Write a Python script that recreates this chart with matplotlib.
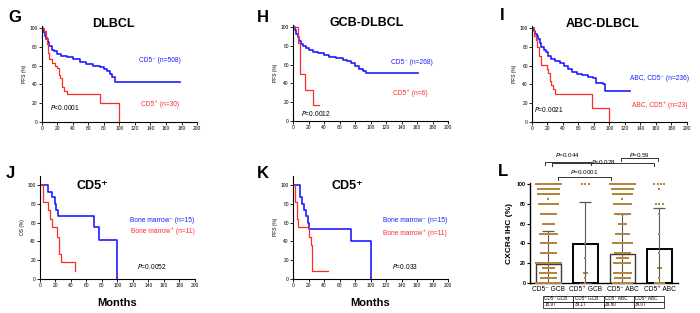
import matplotlib
matplotlib.use("Agg")
import matplotlib.pyplot as plt
import numpy as np

plt.rcParams['font.family'] = ['Liberation Sans', 'DejaVu Sans']

BLUE = '#1c1cff'
RED = '#ff2b2b'
TAN = '#b5853f'

# ---- survival curves (months, %) ----
g_neg_t = [0, 2, 4, 6, 8, 10, 13, 16, 20, 25, 32, 40, 49, 57, 66, 75, 80, 84, 88, 91, 94, 178]
g_neg_s = [100, 96, 92, 88, 85, 81, 77, 75, 72, 70, 69, 67, 64, 62, 60, 58, 56, 54, 51, 48, 43, 43]
g_pos_t = [0, 3, 5, 7, 8, 10, 13, 17, 20, 22, 24, 26, 29, 32, 75, 99]
g_pos_s = [100, 97, 90, 83, 73, 67, 63, 60, 57, 50, 47, 37, 33, 30, 20, 0]

h_neg_t = [0, 2, 4, 6, 8, 10, 13, 17, 21, 26, 32, 40, 47, 55, 64, 70, 75, 80, 85, 90, 94, 161]
h_neg_s = [100, 97, 93, 89, 85, 82, 80, 78, 76, 73, 72, 70, 68, 67, 65, 64, 62, 58, 55, 53, 51, 51]
h_pos_t = [0, 7, 9, 16, 26, 33]
h_pos_s = [100, 83, 50, 33, 17, 17]

i_neg_t = [0, 2, 4, 6, 8, 10, 12, 15, 18, 21, 25, 30, 36, 41, 46, 52, 58, 65, 72, 79, 83, 91, 94, 127]
i_neg_s = [100, 97, 94, 91, 88, 84, 80, 77, 74, 70, 67, 65, 63, 60, 56, 53, 51, 50, 48, 47, 41, 40, 33, 33]
i_pos_t = [0, 3, 5, 7, 9, 12, 19, 21, 23, 25, 27, 30, 77, 99]
i_pos_s = [100, 91, 87, 80, 70, 61, 56, 52, 44, 39, 35, 30, 15, 0]

j_neg_t = [0, 10, 16, 19, 21, 23, 70, 76, 100]
j_neg_s = [100, 93, 87, 80, 73, 67, 55, 42, 0]
j_pos_t = [0, 4, 11, 13, 16, 22, 25, 27, 45]
j_pos_s = [100, 82, 73, 64, 55, 45, 27, 18, 9]

k_neg_t = [0, 9, 11, 14, 17, 19, 21, 75, 100]
k_neg_s = [100, 87, 80, 73, 67, 60, 53, 40, 0]
k_pos_t = [0, 3, 5, 6, 21, 23, 25, 45]
k_pos_s = [100, 82, 64, 55, 45, 36, 9, 9]

# ---- CXCR4 IHC panel ----
groups = ['CD5\u207b GCB', 'CD5\u207a GCB', 'CD5\u207b ABC', 'CD5\u207a ABC']
means = [18.97, 39.17, 29.80, 34.07]
sds = [33.5, 42.8, 40.2, 41.9]
dot_levels = [
    [100, 95, 90, 85, 80, 70, 60, 50, 40, 30, 20, 15, 10, 5, 0],
    [100, 40, 25, 10, 5, 0],
    [100, 95, 90, 85, 80, 70, 60, 50, 40, 30, 25, 20, 10, 5, 0],
    [100, 95, 80, 70, 50, 30, 15, 5, 0],
]
dot_counts = [
    [28, 23, 22, 1, 19, 14, 11, 18, 14, 14, 28, 10, 16, 14, 28],
    [3, 1, 1, 2, 1, 1],
    [28, 22, 20, 1, 18, 14, 6, 12, 20, 14, 10, 16, 18, 14, 20],
    [4, 1, 3, 1, 1, 1, 2, 1, 8],
]
brackets = [('0.044', -0.1, 1.15, 122, 129), ('0.59', 1.95, 2.95, 126, 129),
            ('0.028', 0.1, 2.85, 121, 122), ('0.0001', 0.25, 1.7, 107, 112)]


def km_panel(rect, ylab, ymax, curves, labels, ptext, ppos):
    ax = fig.add_axes(rect)
    for (t, s), col in zip(curves, [BLUE, RED]):
        ax.step(t, s, where='post', color=col, lw=1.2 if col == BLUE else 0.9)
    ax.set_xlim(0, 200)
    ax.set_ylim(0, ymax)
    ax.set_xticks(range(0, 201, 20))
    ax.set_yticks(range(0, 101, 20))
    ax.spines[['top', 'right']].set_visible(False)
    for sp in ax.spines.values():
        sp.set_linewidth(0.8)
    ax.tick_params(labelsize=3.5, length=2, width=0.6, pad=1)
    ax.set_ylabel(ylab, fontsize=3.5, labelpad=2)
    for (txt, x, y), col in zip(labels, [BLUE, RED]):
        ax.text(x, y, txt, color=col, fontsize=4.8, ha='center', va='center')
    ax.text(ppos[0], ppos[1], '$\\it{P}$' + ptext, fontsize=4.8, ha='center', va='center')
    return ax


fig = plt.figure(figsize=(7, 3.13), dpi=100)

ax = km_panel([0.0596, 0.6102, 0.2219, 0.3064], 'PFS (%)', 102,
              [(g_neg_t, g_neg_s), (g_pos_t, g_pos_s)],
              [('CD5\u207b (n=508)', 152, 65), ('CD5\u207a (n=30)', 152, 19)],
              '<0.0001', (30, 15))
ax.text(0.46, 1.02, 'DLBCL', transform=ax.transAxes, fontsize=9, fontweight='bold',
        ha='center', va='center')

ax = km_panel([0.4186, 0.6134, 0.2214, 0.3064], 'PFS (%)', 102,
              [(h_neg_t, h_neg_s), (h_pos_t, h_pos_s)],
              [('CD5\u207b (n=268)', 153, 62), ('CD5\u207a (n=6)', 151, 30)],
              '=0.0012', (30, 8.5))
ax.text(0.477, 1.025, 'GCB-DLBCL', transform=ax.transAxes, fontsize=9, fontweight='bold',
        ha='center', va='center')

ax = km_panel([0.76, 0.6102, 0.2214, 0.3064], 'PFS (%)', 102,
              [(i_neg_t, i_neg_s), (i_pos_t, i_pos_s)],
              [('ABC, CD5\u207b (n=236)', 165, 46), ('ABC, CD5\u207a (n=23)', 165, 18)],
              '=0.0021', (22, 13))
ax.text(0.458, 1.02, 'ABC-DLBCL', transform=ax.transAxes, fontsize=9, fontweight='bold',
        ha='center', va='center')

ax = km_panel([0.0571, 0.1086, 0.2214, 0.3304], 'OS (%)', 110,
              [(j_neg_t, j_neg_s), (j_pos_t, j_pos_s)],
              [('Bone marrow\u207b (n=15)', 157, 62), ('Bone marrow\u207a (n=11)', 159, 51)],
              '=0.0052', (145, 13))
ax.text(0.34, 0.90, 'CD5\u207a', transform=ax.transAxes, fontsize=9, fontweight='bold',
        ha='center', va='center')
ax.set_xlabel('Months', fontsize=8, fontweight='bold', labelpad=7)

ax = km_panel([0.4186, 0.1086, 0.2214, 0.3304], 'PFS (%)', 110,
              [(k_neg_t, k_neg_s), (k_pos_t, k_pos_s)],
              [('Bone marrow\u207b (n=15)', 157, 62), ('Bone marrow\u207a (n=11)', 157, 49)],
              '=0.033', (144.5, 13))
ax.text(0.35, 0.90, 'CD5\u207a', transform=ax.transAxes, fontsize=9, fontweight='bold',
        ha='center', va='center')
ax.set_xlabel('Months', fontsize=8, fontweight='bold', labelpad=7)

# ---- panel L ----
ax = fig.add_axes([0.7571, 0.0958, 0.2114, 0.3195])
x = np.arange(len(groups))
edge = ['#3a3a3a', 'black', '#3a3a3a', 'black']
lws = [1.0, 1.4, 1.0, 1.4]
ax.bar(x, means, width=0.7, fill=False, edgecolor=edge, linewidth=lws, zorder=2)
ax.errorbar(x, means, yerr=[means, sds], fmt='none', ecolor='#5a5a5a', elinewidth=0.8,
            capsize=4.5, capthick=0.9, zorder=3)
for gi, (lv, cn) in enumerate(zip(dot_levels, dot_counts)):
    for v, c in zip(lv, cn):
        if c <= 4:
            w = 0.09 * (c - 1)
        else:
            w = min(0.68, 0.022 * c + 0.08)
        xs = gi + np.linspace(-w / 2, w / 2, c)
        ax.scatter(xs, np.full(c, v), s=2.2, marker='s', color=TAN, lw=0, zorder=4)
ax.set_xlim(-0.5, 3.5)
ax.set_ylim(0, 101)
ax.set_yticks(range(0, 101, 20))
ax.set_xticks(x)
ax.set_xticklabels(groups, fontsize=4.8)
ax.spines[['top', 'right']].set_visible(False)
for sp in ax.spines.values():
    sp.set_linewidth(1.0)
ax.tick_params(axis='y', labelsize=3.8, length=2, width=0.8, pad=1)
ax.tick_params(axis='x', length=0, pad=2)
for lab in ax.get_yticklabels():
    lab.set_fontweight('bold')
ax.set_ylabel('CXCR4 IHC (%)', fontsize=6, fontweight='bold', labelpad=3)
for ptxt, x0, x1, yb, yt in brackets:
    ax.plot([x0, x0, x1, x1], [yb - 3, yb, yb, yb - 3], color='#333333', lw=0.7,
            clip_on=False)
    ax.text((x0 + x1) / 2, yt, '$\\it{P}$=' + ptxt, fontsize=4.5, ha='center',
            va='center', clip_on=False)

tab = ax.table(cellText=[[g for g in groups], ['%.2f' % m for m in means]],
               cellLoc='left', bbox=[0.088, -0.245, 0.82, 0.12])
tab.auto_set_font_size(False)
tab.set_fontsize(3.3)
for cell in tab.get_celld().values():
    cell.set_linewidth(0.5)
    cell.PAD = 0.04

# panel letters
for lt, px, py in [('G', 15, 17), ('H', 263, 17), ('I', 502, 15),
                   ('J', 10, 173), ('K', 263, 173), ('L', 503, 172)]:
    fig.text(px / 700, 1 - py / 313, lt, fontsize=12, fontweight='bold',
             ha='center', va='center')

fig.savefig('out.png', dpi=100)
